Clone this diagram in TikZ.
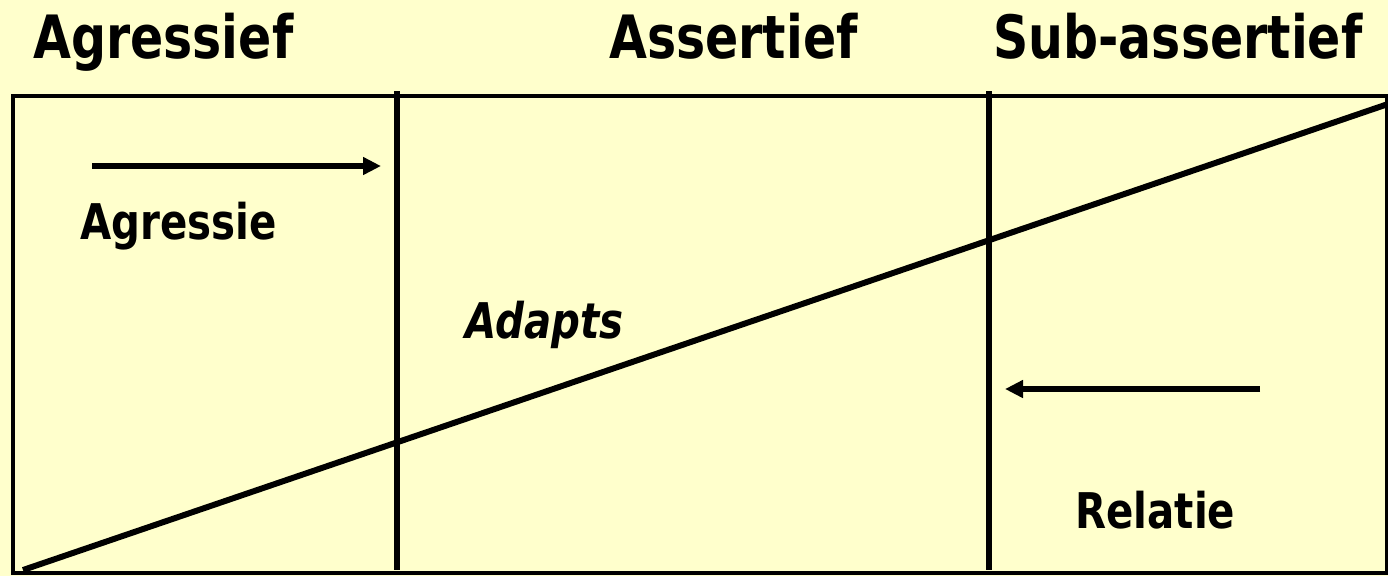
\documentclass[tikz,border=0pt]{standalone}
\usepackage{fontspec}
\usepackage{tikz}
\usetikzlibrary{arrows.meta}
\newfontfamily\lblfont{DejaVu Sans}[FakeStretch=0.82]
\definecolor{PaperBg}{RGB}{255,255,204}
\tikzset{
  hdr/.style={
    anchor=base west, inner sep=0pt,
    font=\lblfont\bfseries\fontsize{34}{40}\selectfont},
  lbl/.style={
    anchor=base west, inner sep=0pt,
    font=\lblfont\bfseries\fontsize{28}{32}\selectfont},
  frame/.style={draw=black, line width=1.8pt},
  divider/.style={line width=3.4pt},
  arr/.style={-{Triangle[length=18*0.02cm,width=17*0.02cm]}, line width=3.1pt},
}
\begin{document}
\begin{tikzpicture}[x=0.02cm,y=0.02cm]

%% page
\useasboundingbox (0,0) rectangle (1388,-576);
\fill[PaperBg] (0,0) rectangle (1388,-576);

%% column borders
\def\Ax{397} \def\Bx{989}

%% headings
\node[hdr] at (33,-58)   (hA){Agressief};
\node[hdr] at (609,-58)  (hB){Assertief};
\node[hdr] at (993,-58)  (hC){Sub-assertief};

%% frame and dividers
\draw[frame] (13,-96) rectangle (1387,-573);
\draw[divider] (\Ax,-91)--(\Ax,-570);
\draw[divider] (\Bx,-91)--(\Bx,-570);

%% diagonal
\coordinate (dL) at (23,-570);
\coordinate (dR) at (1388,-104);
\draw[divider] (dL)--(dR);

%% labels
\node[lbl] at (80,-239)  (tAgr){Agressie};
\node[lbl,font=\lblfont\bfseries\itshape\fontsize{28}{32}\selectfont]
          at (465,-338) (tAda){Adapts};
\node[lbl] at (1075,-528) (tRel){Relatie};

%% arrows
\coordinate (a1s) at (92,-166);  \coordinate (a1e) at (381,-166);
\coordinate (a2s) at (1260,-389); \coordinate (a2e) at (1005,-389);
\draw[arr] (a1s)--(a1e);
\draw[arr] (a2s)--(a2e);

\end{tikzpicture}
\end{document}
